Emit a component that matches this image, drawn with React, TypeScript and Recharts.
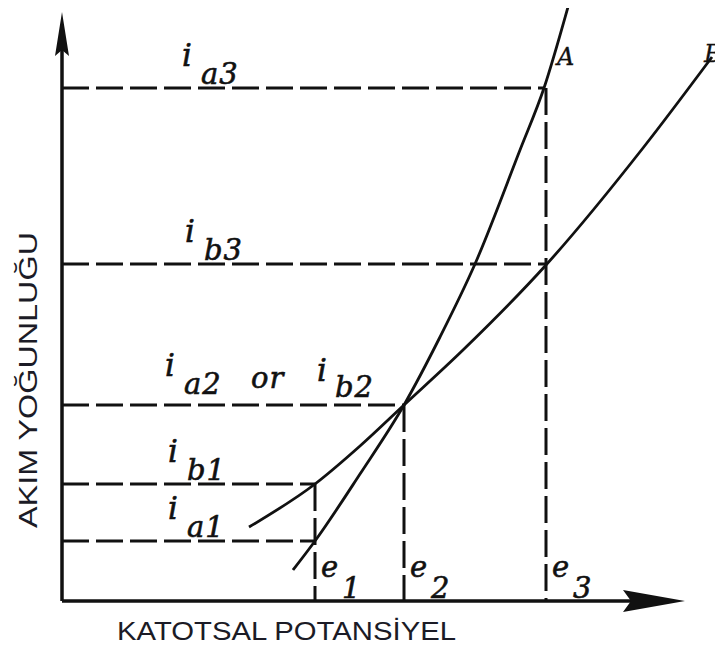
import React from "react";
import {
  ComposedChart,
  Line,
  XAxis,
  YAxis,
  ReferenceLine,
  ReferenceDot,
} from "recharts";

// Cathodic polarisation of two electrodes A and B (arbitrary units)
const curveA = [
  { x: 23.1, y: 3.1 },
  { x: 25.3, y: 6.0 },
  { x: 29.8, y: 12.7 },
  { x: 34.2, y: 19.6 },
  { x: 37.8, y: 26.4 },
  { x: 41.3, y: 33.7 },
  { x: 45.8, y: 45.1 },
  { x: 48.2, y: 51.3 },
  { x: 50.6, y: 59.4 },
];

const curveB = [
  { x: 18.7, y: 7.4 },
  { x: 25.3, y: 11.7 },
  { x: 29.8, y: 15.5 },
  { x: 34.2, y: 19.6 },
  { x: 40.1, y: 25.1 },
  { x: 48.4, y: 33.6 },
  { x: 58.1, y: 45.3 },
  { x: 65.0, y: 54.4 },
];

// e1, e2, e3 and the current level each drop line starts from
const potentials = [25.3, 34.2, 48.4];
const potentialNames = ["1", "2", "3"];
const potentialTops = [11.7, 19.6, 51.3];

// ia1, ib1, ia2 = ib2, ib3, ia3 and the potential each level reaches
const currents = [6.0, 11.7, 19.6, 33.7, 51.3];
const currentNames = [["a1"], ["b1"], ["a2", "b2"], ["b3"], ["a3"]];
const currentEnds = [25.3, 25.3, 34.2, 48.4, 48.2];

const curveNames = ["A", "B"];

const W = 723;
const H = 646;
const INK = "#111";
const DASH = "27 7";
const hand = {
  fontFamily: "'DejaVu Serif', serif",
  fontStyle: "italic" as const,
  fill: INK,
  stroke: INK,
  strokeWidth: 0.6,
};
const labelX = [10.6, 10.6, 10.3, 12.3, 12.0];

const CurrentTag = (props: any) => {
  const { cx, cy, names } = props;
  if (names.length === 2) {
    return (
      <g style={hand}>
        <text x={cx} y={cy - 29} fontSize={31}>i</text>
        <text x={cx + 19} y={cy - 11} fontSize={29} letterSpacing={1}>{names[0]}</text>
        <text x={cx + 86} y={cy - 17} fontSize={29} letterSpacing={1}>or</text>
        <text x={cx + 152} y={cy - 24} fontSize={31}>i</text>
        <text x={cx + 170} y={cy - 8} fontSize={29} letterSpacing={1}>{names[1]}</text>
      </g>
    );
  }
  return (
    <g style={hand}>
      <text x={cx} y={cy - 22} fontSize={31}>i</text>
      <text x={cx + 19} y={cy - 4} fontSize={29} letterSpacing={1}>{names[0]}</text>
    </g>
  );
};

const PotentialTag = (props: any) => {
  const { cx, cy, name } = props;
  return (
    <g style={hand}>
      <text x={cx + 6} y={cy - 24} fontSize={29}>e</text>
      <text x={cx + 27} y={cy - 3} fontSize={29}>{name}</text>
    </g>
  );
};

const UpArrow = (props: any) => {
  const { cx, cy } = props;
  return (
    <polygon
      points={`${cx},${cy} ${cx - 7},${cy + 44} ${cx},${cy + 38} ${cx + 7},${cy + 44}`}
      fill={INK}
    />
  );
};

const RightArrow = (props: any) => {
  const { cx, cy } = props;
  return (
    <polygon
      points={`${cx},${cy} ${cx - 62},${cy - 11} ${cx - 54},${cy} ${cx - 62},${cy + 11}`}
      fill={INK}
    />
  );
};

export default function App() {
  return (
    <div style={{ margin: "-8px 0 0 -8px", width: W, height: H, background: "#fff", position: "relative" }}>
      <ComposedChart
        width={W}
        height={H}
        margin={{ top: 1, right: 1, bottom: 45, left: 62 }}
      >
        <XAxis type="number" dataKey="x" domain={[0, 66]} allowDataOverflow hide />
        <YAxis type="number" dataKey="y" domain={[0, 60]} allowDataOverflow hide />

        {/* axes */}
        <ReferenceLine
          segment={[{ x: 0, y: 0 }, { x: 0, y: 57 }]}
          stroke={INK}
          strokeWidth={3.5}
        />
        <ReferenceLine
          segment={[{ x: 0, y: 0 }, { x: 60, y: 0 }]}
          stroke={INK}
          strokeWidth={3.5}
        />
        <ReferenceDot x={0} y={58.9} r={0} shape={UpArrow} />
        <ReferenceDot x={62.3} y={0} r={0} shape={RightArrow} />

        {/* dashed current levels */}
        {currents.map((c, i) => (
          <ReferenceLine
            key={`c${i}`}
            segment={[{ x: 0, y: c }, { x: currentEnds[i], y: c }]}
            stroke={INK}
            strokeWidth={3}
            strokeDasharray={DASH}
          />
        ))}

        {/* dashed potential drop lines */}
        {potentials.map((e, i) => (
          <ReferenceLine
            key={`e${i}`}
            segment={[{ x: e, y: potentialTops[i] }, { x: e, y: 0 }]}
            stroke={INK}
            strokeWidth={3}
            strokeDasharray={DASH}
          />
        ))}

        <Line
          data={curveA}
          dataKey="y"
          type="monotone"
          stroke={INK}
          strokeWidth={2.8}
          dot={false}
          isAnimationActive={false}
        />
        <Line
          data={curveB}
          dataKey="y"
          type="monotone"
          stroke={INK}
          strokeWidth={2.8}
          dot={false}
          isAnimationActive={false}
        />

        {currents.map((c, i) => (
          <ReferenceDot
            key={`cl${i}`}
            x={labelX[i]}
            y={c}
            r={0}
            shape={(p: any) => <CurrentTag {...p} names={currentNames[i]} />}
          />
        ))}
        {potentials.map((e, i) => (
          <ReferenceDot
            key={`el${i}`}
            x={e}
            y={0}
            r={0}
            shape={(p: any) => <PotentialTag {...p} name={potentialNames[i]} />}
          />
        ))}

        <ReferenceDot
          x={curveA[7].x}
          y={curveA[7].y}
          r={0}
          shape={(p: any) => (
            <text x={p.cx + 13} y={p.cy - 23} fontSize={24} style={{ ...hand, strokeWidth: 0.3 }}>
              {curveNames[0]}
            </text>
          )}
        />
        <ReferenceDot
          x={curveB[7].x}
          y={curveB[7].y}
          r={0}
          shape={(p: any) => (
            <text x={p.cx - 8} y={p.cy + 5} fontSize={24} style={{ ...hand, strokeWidth: 0.3 }}>
              {curveNames[1]}
            </text>
          )}
        />
      </ComposedChart>

      <div
        style={{
          position: "absolute",
          left: 0,
          top: 0,
          pointerEvents: "none",
        }}
      >
        <svg width={W} height={H}>
          <text
            x={117}
            y={640}
            fontSize={25}
            textLength={339}
            lengthAdjust="spacingAndGlyphs"
            fontFamily="'Liberation Sans', Arial, sans-serif"
            fill="#1b1b26"
          >
            KATOTSAL POTANSİYEL
          </text>
          <text
            transform="translate(37 528) rotate(-90)"
            fontSize={25}
            textLength={296}
            lengthAdjust="spacingAndGlyphs"
            fontFamily="'Liberation Sans', Arial, sans-serif"
            fill="#1b1b26"
          >
            AKIM YOĞUNLUĞU
          </text>
        </svg>
      </div>
    </div>
  );
}
